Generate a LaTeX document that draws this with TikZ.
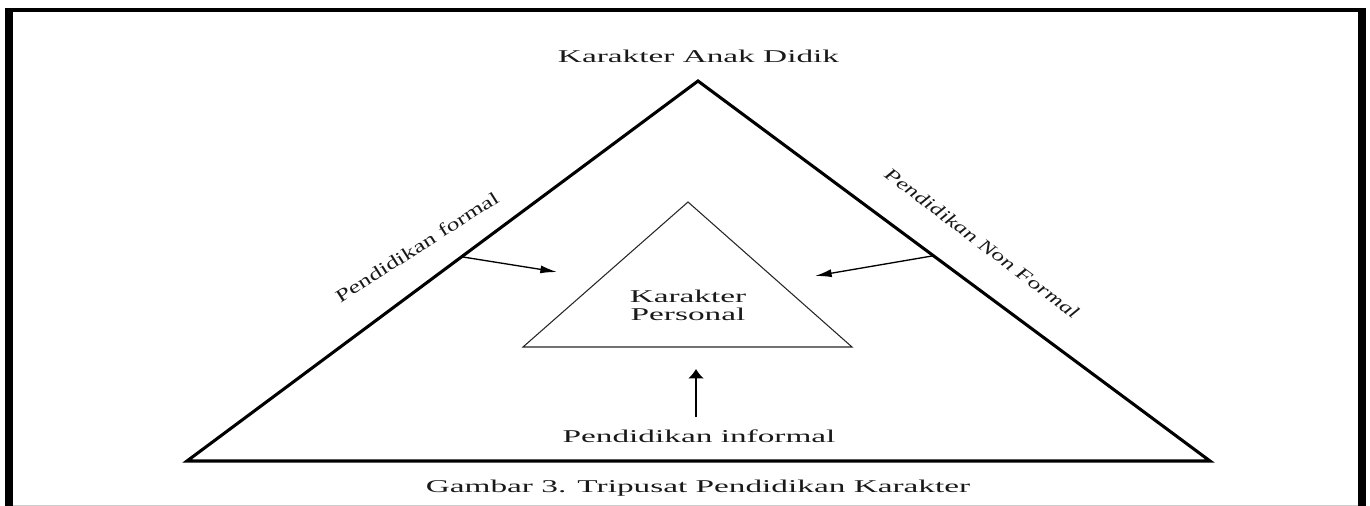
\documentclass[tikz,border=0pt]{standalone}
\usepackage{fontspec}
\setmainfont{Liberation Serif}
\usetikzlibrary{arrows.meta}
\begin{document}
\begin{tikzpicture}[x=0.75pt,y=-0.75pt,
  lbl/.style={font=\fontsize{13.5}{13.5}\selectfont, inner sep=0pt, text=black!90, xscale=1.85},
  rlbl/.style={font=\fontsize{13.5}{13.5}\selectfont, inner sep=0pt, text=black!90},
  outer/.style={line width=2.3pt, line join=miter},
  inner/.style={line width=0.8pt, draw=black!85},
  arr/.style={line width=1pt, -{Latex[length=12.5pt,width=6pt]}},
  uparr/.style={line width=1.1pt, -{Latex[length=7pt,width=12pt]}}]
\useasboundingbox (0,0) rectangle (1370,506);
% frame
\fill[black] (5,8) rectangle (13,506);
\fill[black] (5,8) rectangle (1366,12);
\fill[black] (1358,8) rectangle (1366,506);
\draw[black!20, line width=0.75pt] (13,505.5) -- (1358,505.5);
% triangles
\coordinate (A) at (698,81);
\coordinate (B) at (187,461);
\coordinate (C) at (1210,461);
\coordinate (a) at (688,202);
\coordinate (b) at (523,347);
\coordinate (c) at (852,347);
\draw[outer] (A) -- (B) -- (C) -- cycle;
\draw[inner] (a) -- (b) -- (c) -- cycle;
% arrows
\coordinate (lf) at (463,257);
\coordinate (lt) at (557,272);
\coordinate (rf) at (932,256);
\coordinate (rt) at (815,276);
\coordinate (bf) at (696,417);
\coordinate (bt) at (696,369);
\draw[arr] (lf) -- (lt);
\draw[arr] (rf) -- (rt);
\draw[uparr] (bf) -- (bt);
% texts
\node[lbl, anchor=base] (top) at (698.5,63) {Karakter Anak Didik};
\node[lbl, align=center] (kp) at (688,305) {Karakter\\Personal};
\node[lbl, anchor=base] (inf) at (699,442) {Pendidikan informal};
\node[lbl, anchor=base] (cap) at (698,492) {Gambar 3. Tripusat Pendidikan Karakter};
\node[rlbl, rotate=32.5, xscale=1.42] (pf) at (417,247) {Pendidikan formal};
\node[rlbl, rotate=-37, xscale=1.36, font=\fontsize{13.5}{13.5}\selectfont\itshape] (pnf) at (982,243) {Pendidikan Non Formal};
\end{tikzpicture}
\end{document}
